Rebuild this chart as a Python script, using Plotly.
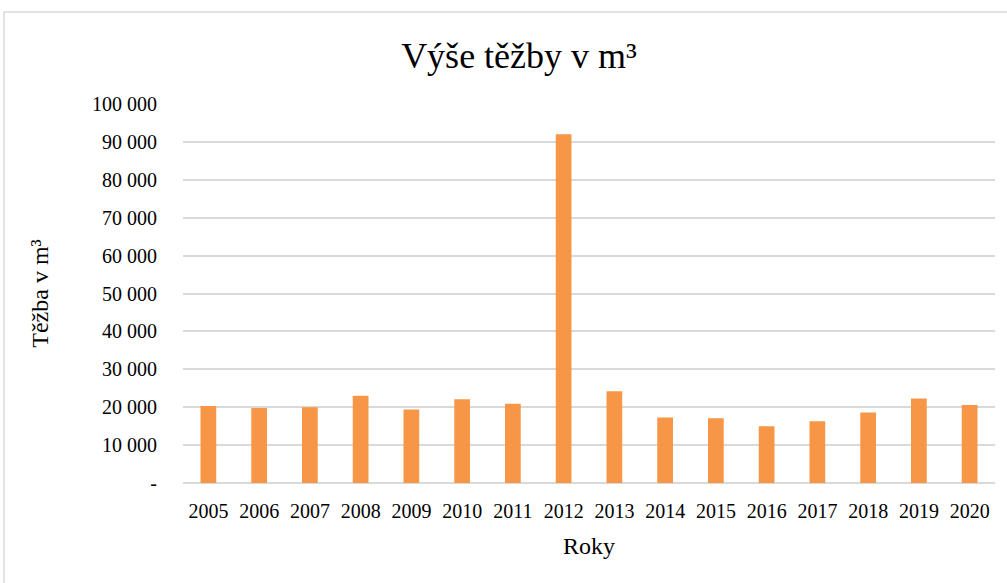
import plotly.graph_objects as go

years = ["2005", "2006", "2007", "2008", "2009", "2010", "2011", "2012",
         "2013", "2014", "2015", "2016", "2017", "2018", "2019", "2020"]
tezba = [20300, 19800, 20000, 23000, 19400, 22100, 20900, 92000,
         24200, 17300, 17100, 15000, 16300, 18600, 22300, 20600]
tick_vals = [0, 10000, 20000, 30000, 40000, 50000, 60000, 70000, 80000, 90000, 100000]
tick_text = ["-", "10 000", "20 000", "30 000", "40 000", "50 000", "60 000",
             "70 000", "80 000", "90 000", "100 000"]

font_family = "Liberation Serif, Times New Roman, serif"

fig = go.Figure(go.Bar(x=years, y=tezba, marker=dict(color="#f79646", line=dict(width=0))))

W, H = 1007, 583
L, R, T, B = 183, 12, 104, 100
pw, ph = W - L - R, H - T - B

fig.update_layout(
    width=W, height=H,
    margin=dict(l=L, r=R, t=T, b=B),
    paper_bgcolor="white", plot_bgcolor="white",
    bargap=0.69,
    showlegend=False,
    font=dict(family=font_family, color="#000000"),
    title=dict(text="Výše těžby v m³", x=519 / W, xanchor="center",
               y=1 - 55 / H, yanchor="middle",
               font=dict(size=36, family=font_family, color="#000000")),
    xaxis=dict(title=dict(text="Roky", font=dict(size=24), standoff=16),
               tickfont=dict(size=20), showgrid=False, showline=False,
               ticks="", zeroline=False, ticklabelstandoff=14),
    yaxis=dict(title=dict(text="Těžba v m³", font=dict(size=24), standoff=36),
               range=[0, 100000], tickvals=tick_vals, ticktext=tick_text,
               tickfont=dict(size=20), showgrid=True, gridcolor="#d9d9d9",
               gridwidth=1.5, zeroline=True, zerolinecolor="#d9d9d9",
               zerolinewidth=1.5, showline=False, ticks="", ticklabelstandoff=25),
    shapes=[dict(type="rect", xref="paper", yref="paper",
                 x0=(4 - L) / pw, x1=(W + 5 - L) / pw,
                 y0=-(B + 5) / ph, y1=(H - B - 12) / ph,
                 line=dict(color="#d9d9d9", width=1.5), fillcolor="rgba(0,0,0,0)",
                 layer="below")],
)

fig.write_html("out.html", config={"displayModeBar": False},
               post_script="document.body.style.margin='0';document.body.style.overflow='hidden';")
